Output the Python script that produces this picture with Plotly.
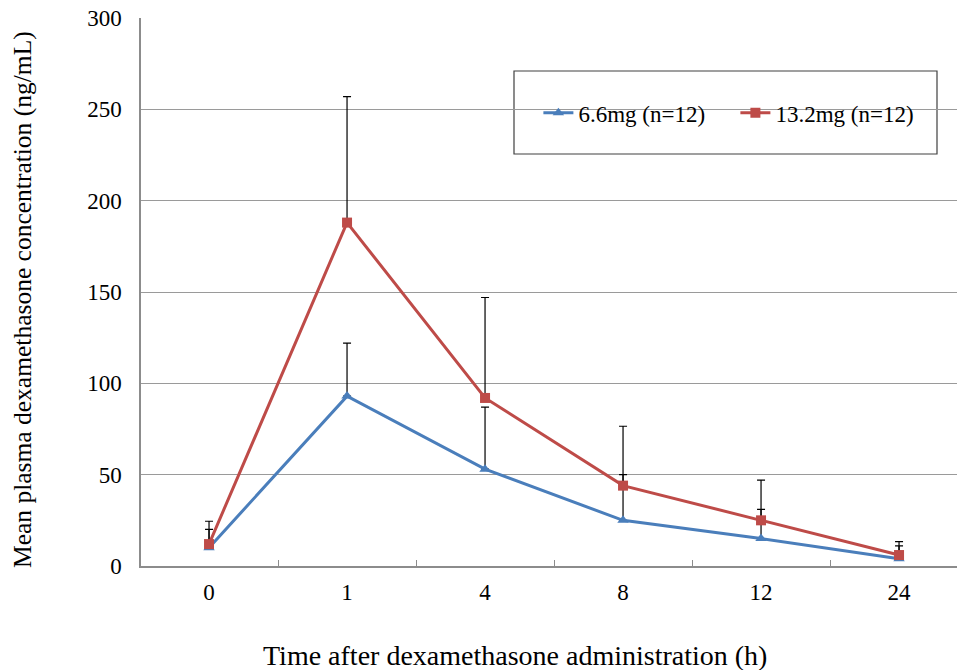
import plotly.graph_objects as go

time_labels = ["0", "1", "4", "8", "12", "24"]
positions = [0, 1, 2, 3, 4, 5]

low_name = "6.6mg (n=12)"
low_mean = [10, 93, 53, 25, 15, 4]
low_sd = [10, 29, 34, 25, 16, 7]

high_name = "13.2mg (n=12)"
high_mean = [12, 188, 92, 44, 25, 6]
high_sd = [12.5, 69, 55, 32.5, 22, 7.3]

blue = "#4A7EBB"
red = "#BE4B48"
font_family = "Liberation Serif, Times New Roman, serif"

fig = go.Figure()

# error bars (black, upper only)
for mean, sd in [(high_mean, high_sd), (low_mean, low_sd)]:
    fig.add_trace(go.Scatter(
        x=positions, y=mean, mode="markers", marker=dict(size=1, opacity=0),
        showlegend=False, hoverinfo="skip",
        error_y=dict(type="data", array=sd, arrayminus=[0]*len(sd), symmetric=False,
                     color="black", thickness=1.2, width=4)))

fig.add_trace(go.Scatter(
    x=positions, y=low_mean, mode="lines+markers", name=low_name,
    line=dict(color=blue, width=3),
    marker=dict(symbol="triangle-up", size=10, color=blue)))
fig.add_trace(go.Scatter(
    x=positions, y=high_mean, mode="lines+markers", name=high_name,
    line=dict(color=red, width=3),
    marker=dict(symbol="square", size=10, color=red)))

fig.update_layout(
    width=957, height=670,
    margin=dict(l=141, r=0, t=18, b=104, autoexpand=False),
    paper_bgcolor="white", plot_bgcolor="white",
    font=dict(family=font_family, size=23, color="black"),
    showlegend=True,
    legend=dict(orientation="h", x=0.487, y=0.827, xanchor="left", yanchor="middle",
                bgcolor="rgba(0,0,0,0)", borderwidth=0,
                font=dict(size=23, family=font_family),
                entrywidth=152, entrywidthmode="pixels", itemwidth=30),
    xaxis=dict(
        range=[-0.493, 5.42], tickvals=positions, ticktext=time_labels,
        ticks="", showgrid=False, zeroline=False,
        showline=True, linecolor="#8C8C8C", linewidth=1.5,
        ticklabelstandoff=5,
        minor=dict(tickvals=[0.5, 1.5, 2.5, 3.5, 4.5], ticks="inside",
                   ticklen=6, tickcolor="#8C8C8C", showgrid=False),
    ),
    yaxis=dict(
        range=[0, 300], tickvals=[0, 50, 100, 150, 200, 250, 300],
        ticks="", showgrid=True, gridcolor="#9A9A9A", gridwidth=1,
        zeroline=False, showline=True, linecolor="#8C8C8C", linewidth=1.5,
        ticklabelstandoff=13,
    ),
    shapes=[dict(type="rect", xref="paper", yref="paper",
                 x0=(514-141)/816, x1=(937-141)/816,
                 y0=(566-154)/548, y1=(566-71)/548,
                 line=dict(color="#404040", width=1.2), fillcolor="white", layer="below")],
    annotations=[
        dict(text="Time after dexamethasone administration (h)", xref="paper", yref="paper",
             x=(515-141)/816, y=-(655-566)/548, xanchor="center", yanchor="middle",
             showarrow=False, font=dict(size=28, family=font_family)),
        dict(text="Mean plasma dexamethasone concentration (ng/mL)", xref="paper", yref="paper",
             x=-(141-22)/816, y=(566-300)/548, xanchor="center", yanchor="middle",
             textangle=-90, showarrow=False, font=dict(size=25.5, family=font_family)),
    ],
)

fig.write_html("out.html")
